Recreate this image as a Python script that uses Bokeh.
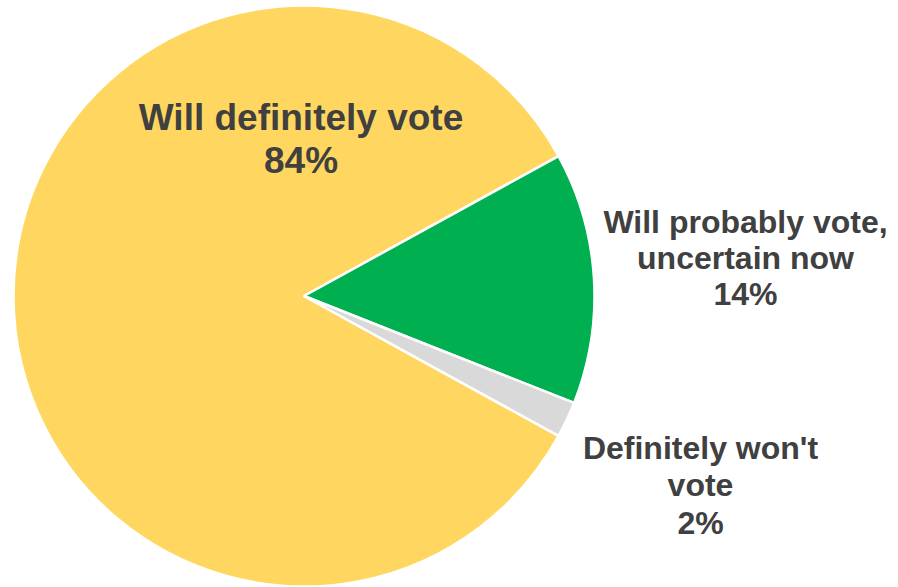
import math
from bokeh.plotting import figure
from bokeh.models import Range1d
from bokeh.core.properties import value
from bokeh.embed import file_html
from bokeh.resources import INLINE

# ---- data ----
categories = ["Will definitely vote", "Will probably vote, uncertain now", "Definitely won't vote"]
values = [84, 14, 2]
label_lines = [
    ["Will definitely vote"],
    ["Will probably vote,", "uncertain now"],
    ["Definitely won't", "vote"],
]
colors = ["#FFD760", "#00B050", "#D9D9D9"]

# ---- layout (pixel units, measured from top-left) ----
W, H = 898, 587
cx_px, cy_px, R = 303.5, 295.5, 290.5
label_x = [300.5, 745, 700]
label_top_baseline = [117, 221, 447]
label_step = [43, 36, 37.5]
label_size = ["37px", "32px", "32px"]

p = figure(width=W, height=H, output_backend="svg", toolbar_location=None,
           x_range=Range1d(0, W), y_range=Range1d(0, H), min_border=0,
           background_fill_color="white", border_fill_color="white")
p.xaxis.visible = False
p.yaxis.visible = False
p.grid.visible = False
p.outline_line_color = None

cx, cy = cx_px, H - cy_px
total = sum(values)
starts, ends = [], []
cur = math.pi + math.pi * values[0] / total  # first slice centred at 180 deg, clockwise order
for v in values:
    span = 2 * math.pi * v / total
    ends.append(cur)
    starts.append(cur - span)
    cur -= span

p.wedge(x=[cx] * len(values), y=[cy] * len(values), radius=R,
        start_angle=starts, end_angle=ends,
        fill_color=colors, line_color="white", line_width=2.5)

for i, lines in enumerate(label_lines):
    all_lines = lines + [f"{values[i]}%"]
    ys = [H - (label_top_baseline[i] + k * label_step[i]) for k in range(len(all_lines))]
    p.text(x=[label_x[i]] * len(all_lines), y=ys, text=all_lines,
           text_font=value("Liberation Sans"), text_font_style="bold",
           text_font_size=label_size[i], text_color="#404040",
           text_align="center", text_baseline="alphabetic")

open("out.html", "w").write(file_html(p, INLINE))
